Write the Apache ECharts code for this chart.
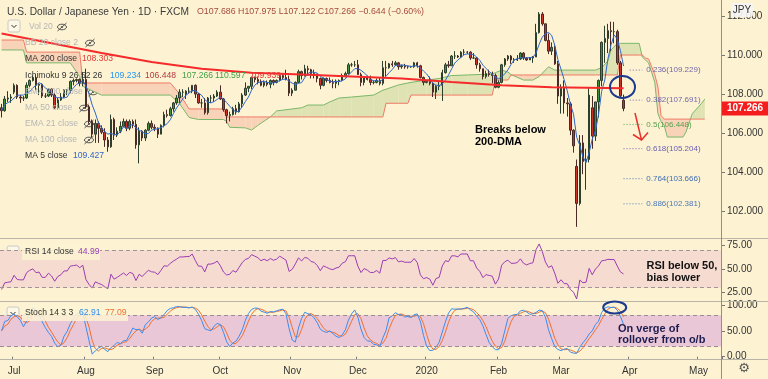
<!DOCTYPE html>
<html><head><meta charset="utf-8">
<script src="https://cdn.jsdelivr.net/npm/echarts@6.0.0/dist/echarts.min.js"></script>
<style>
html,body{margin:0;padding:0;background:#fdf3d3;}
#chart{width:768px;height:379px;}
</style></head><body>
<div id="chart"></div>
<script>
// ---------------- DATA ----------------
const firstDate = '2019-06-25', lastDate = '2020-05-12';
const monthNames = ['Jan','Feb','Mar','Apr','May','Jun','Jul','Aug','Sep','Oct','Nov','Dec'];
// daily candles [open, high, low, close], Jun 25 2019 .. Mar 30 2020
const candles = [
[107.30,107.50,106.80,107.15],[107.15,107.90,107.10,107.75],[107.75,108.15,107.60,107.80],[107.80,108.00,107.55,107.85],
[108.10,108.55,108.00,108.45],[108.45,108.50,107.75,107.85],[107.85,107.95,107.55,107.80],[107.80,107.90,107.65,107.80],[107.80,108.60,107.75,108.45],
[108.45,108.75,108.35,108.70],[108.70,108.95,108.65,108.85],[108.85,109.00,108.20,108.45],[108.45,108.55,107.95,108.50],[108.50,108.55,107.80,107.90],
[107.90,108.05,107.80,107.90],[107.90,108.30,107.85,108.25],[108.25,108.30,107.85,107.95],[107.95,108.05,107.25,107.30],[107.30,107.80,107.20,107.70],
[107.70,108.05,107.65,107.85],[107.85,108.25,107.80,108.20],[108.20,108.25,107.95,108.20],[108.20,108.70,108.05,108.65],[108.65,108.80,108.45,108.70],
[108.70,108.80,108.60,108.75],[108.75,108.80,108.40,108.55],[108.55,109.10,108.40,108.75],
[108.75,109.30,107.25,107.35],[107.35,107.45,106.50,106.60],
[106.60,106.70,105.80,105.95],[105.95,106.70,105.50,106.50],[106.50,106.60,105.50,106.25],[106.25,106.40,105.95,106.05],[106.05,106.25,105.30,105.65],
[105.65,105.80,105.05,105.30],[105.30,106.95,105.25,106.70],[106.70,106.80,105.65,105.90],[105.90,106.30,105.80,106.10],[106.10,106.60,106.00,106.35],
[106.35,106.75,106.30,106.60],[106.60,106.70,106.10,106.25],[106.25,106.70,106.15,106.60],[106.60,106.70,106.25,106.45],[106.45,106.70,105.20,105.40],
[105.40,106.30,104.45,106.10],[106.10,106.15,105.60,105.75],[105.75,106.20,105.60,106.15],[106.15,106.60,106.10,106.50],[106.50,106.65,106.20,106.30],
[106.30,106.45,106.10,106.25],[106.25,106.30,105.75,105.95],[105.95,106.45,105.95,106.40],[106.40,107.10,106.30,106.95],[106.95,107.20,106.80,106.90],
[106.90,107.35,106.85,107.25],[107.25,107.60,107.10,107.55],[107.55,107.95,107.45,107.80],[107.80,108.25,107.55,108.10],[108.10,108.25,107.85,108.10],
[108.00,108.20,107.75,108.15],[108.15,108.35,108.05,108.15],[108.15,108.45,108.05,108.45],[108.45,108.50,107.80,108.00],[108.00,108.05,107.50,107.55],
[107.55,107.75,107.30,107.55],[107.55,107.80,106.95,107.05],[107.05,107.85,106.95,107.80],[107.80,107.95,107.55,107.80],[107.80,108.00,107.60,107.90],
[107.90,108.20,107.85,108.10],
[108.10,108.45,107.70,107.75],[107.75,107.80,107.10,107.20],[107.20,107.25,106.50,106.90],[106.90,107.10,106.60,106.95],
[106.95,107.35,106.90,107.25],[107.25,107.45,106.95,107.10],[107.10,107.60,107.05,107.50],[107.50,108.05,107.30,107.95],[107.95,108.60,107.90,108.30],
[108.30,108.40,108.10,108.40],[108.40,108.90,108.25,108.85],[108.85,108.90,108.60,108.75],[108.75,108.90,108.50,108.65],[108.65,108.75,108.40,108.45],
[108.45,108.70,108.35,108.60],[108.60,108.70,108.40,108.50],[108.50,108.75,108.30,108.70],[108.70,108.75,108.45,108.60],[108.60,108.75,108.55,108.70],
[108.70,109.00,108.65,108.95],[108.95,109.05,108.75,108.85],[108.85,109.25,108.70,108.75],[108.75,108.95,107.90,108.05],
[108.05,108.30,107.90,108.20],
[108.20,108.65,108.20,108.60],[108.60,109.25,108.55,109.15],[109.15,109.20,108.75,108.95],[108.95,109.50,108.90,109.30],[109.30,109.45,108.95,109.25],
[109.25,109.30,108.80,109.05],[109.05,109.25,108.80,109.00],[109.00,109.05,108.60,108.80],[108.80,108.85,108.25,108.45],[108.45,108.85,108.40,108.80],
[108.80,108.85,108.60,108.70],[108.70,108.85,108.55,108.60],[108.60,108.75,108.30,108.55],[108.55,108.75,108.30,108.65],[108.65,108.75,108.45,108.70],
[108.70,109.05,108.65,108.95],[108.95,109.15,108.85,109.05],[109.05,109.60,109.00,109.50],[109.50,109.60,109.40,109.50],[109.50,109.70,109.40,109.50],
[109.50,109.75,109.00,109.00],[109.00,109.10,108.40,108.60],[108.60,108.90,108.45,108.85],[108.85,108.95,108.70,108.75],[108.75,108.95,108.45,108.60],
[108.60,108.70,108.50,108.60],[108.60,108.80,108.55,108.70],[108.70,108.85,108.45,108.55],[108.55,109.70,108.45,109.35],[109.35,109.70,108.90,109.35],
[109.35,109.60,109.30,109.55],[109.55,109.70,109.40,109.50],[109.50,109.70,109.45,109.60],[109.60,109.65,109.25,109.40],[109.40,109.50,109.30,109.45],
[109.45,109.55,109.30,109.40],[109.40,109.45,109.30,109.40],[109.40,109.45,109.35,109.40],[109.40,109.65,109.35,109.60],[109.60,109.65,109.35,109.45],
[109.45,109.50,108.80,108.85],[108.85,108.90,108.45,108.60],
[108.60,108.70,108.55,108.65],[108.65,108.90,108.45,108.55],[108.55,108.60,107.85,108.10],
[108.10,108.45,107.75,108.40],[108.40,108.65,108.20,108.45],[108.45,109.25,107.65,109.10],[109.10,109.60,109.05,109.50],[109.50,109.70,109.35,109.45],
[109.45,110.00,109.45,109.95],[109.95,110.20,109.80,109.95],[109.95,110.00,109.85,109.90],[109.90,110.20,109.85,110.15],[110.15,110.30,110.00,110.15],
[110.15,110.20,110.05,110.15],[110.15,110.20,109.75,109.85],[109.85,110.10,109.80,109.85],[109.85,109.90,109.30,109.50],[109.50,109.60,109.15,109.30],
[109.30,109.30,108.75,108.90],[108.90,109.20,108.80,109.05],[109.05,109.25,108.90,109.00],[109.00,109.15,108.55,108.95],[108.95,109.05,108.30,108.35],
[108.35,108.70,108.30,108.60],[108.60,109.55,108.55,109.50],[109.50,109.85,109.40,109.80],[109.80,110.00,109.70,109.95],[109.95,110.00,109.55,109.75],
[109.75,109.85,109.60,109.75],[109.75,110.00,109.70,109.80],[109.80,110.15,109.75,110.10],[110.10,110.15,109.75,109.85],[109.85,109.90,109.70,109.75],
[109.75,109.90,109.75,109.85],[109.85,109.95,109.60,109.90],[109.90,111.60,109.90,111.15],[111.15,112.20,111.10,112.10],[112.10,112.20,111.50,111.60],
[111.60,111.60,110.70,110.75],[110.75,111.10,110.05,110.20],[110.20,110.65,110.00,110.40],[110.40,110.50,109.50,109.55],[109.55,109.70,107.50,107.90],
[107.90,108.50,107.00,108.30],[108.30,108.70,107.00,107.55],[107.55,107.80,106.85,107.50],[107.50,107.60,105.90,106.15],[106.15,106.20,105.00,105.35],
[104.30,104.65,101.20,102.40],[102.40,105.90,102.30,105.50],[105.50,105.90,103.90,104.55],[104.55,105.20,103.10,104.65],[104.65,108.30,104.50,107.95],
[107.30,107.90,105.20,105.85],[105.85,107.60,105.60,107.60],[107.60,108.75,106.80,108.70],[108.70,110.70,108.40,110.65],[110.65,111.50,109.60,110.85],
[110.85,111.60,110.10,111.25],[111.25,111.71,110.20,111.20],[111.20,111.70,110.60,111.20],[111.20,111.30,109.50,109.60],[109.60,109.70,107.85,107.91],
[107.686,107.975,107.122,107.266]
];
// MA 200 (bar index, value)
const ma200Idx = [0,16,32,48,64,80,96,112,128,144,160,176,199];
const ma200Val = [111.10,110.60,110.10,109.65,109.30,109.10,109.00,108.90,108.80,108.62,108.45,108.35,108.30];
// Ichimoku cloud edges (bar index, leading span A, leading span B)
const cloudIdx = [0,7,8,22,25,26,32,54,57,60,63,71,72,73,78,80,82,86,88,96,98,103,105,108,112,119,122,123,127,130,131,136,140,144,149,157,158,160,162,163,167,170,172,175,177,190,192,194,195,197,198,204,205,206,207,208,209,210,211,212,213,218,219,221,224,225];
const spanA = [110.26,110.26,109.60,109.60,108.90,108.40,107.95,107.95,107.50,106.80,106.70,106.70,106.60,106.30,106.27,106.16,106.40,106.83,107.14,107.30,107.44,107.44,107.60,107.80,107.85,107.95,108.20,108.25,108.47,108.57,108.60,108.72,108.80,108.95,108.98,109.03,109.10,109.23,109.13,109.00,108.72,108.72,108.90,109.40,109.23,109.23,109.35,109.70,110.26,110.60,110.60,110.60,109.90,109.75,109.60,109.10,108.60,107.00,106.60,106.40,105.80,105.80,106.06,107.00,107.53,107.75];
const spanB = [110.77,110.77,110.15,110.15,110.15,108.57,108.57,108.57,108.00,107.24,107.24,107.24,106.83,106.83,106.83,106.83,106.83,106.83,106.83,106.83,106.83,106.83,106.83,106.83,106.83,106.83,106.83,107.53,107.53,107.53,107.95,107.95,107.95,107.95,107.95,107.95,108.72,108.72,108.72,108.98,108.98,108.98,108.98,108.98,108.98,108.98,108.98,108.98,108.98,108.98,110.00,110.00,110.00,109.85,109.80,109.40,109.00,108.37,106.90,106.72,106.72,106.72,106.72,106.72,106.72,106.72];
// Fibonacci retracement
const fibRatios = ['0.236','0.382','0.5','0.618','0.764','0.886'];
const fibPrices = [109.229,107.691,106.448,105.204,103.666,102.381];
const fibStart = [201,201,199,199,199,199];
const fibColors = ['#7468a8','#7468a8','#58a04a','#6a5cb0','#3f6db5','#4d78b8'];
// indicator readings shown in the legends
const rsiStart = 28;   // RSI level at the first bar
const priceAxisTicks = [102,104,106,108,110,112];
const rsiTicks = [25,50,75];
const stochTicks = [0,50,100];

// ---------------- DERIVED ----------------
function weekdays(a, b) {
  const out = []; const d = new Date(a + 'T00:00:00Z'); const e = new Date(b + 'T00:00:00Z');
  while (d <= e) { const w = d.getUTCDay(); if (w !== 0 && w !== 6) out.push(d.toISOString().slice(0, 10)); d.setUTCDate(d.getUTCDate() + 1); }
  return out;
}
const dates = weekdays(firstDate, lastDate);
const monthStart = {};
dates.forEach((d, i) => { if (i > 0 && d.slice(5, 7) !== dates[i - 1].slice(5, 7)) {
  const m = +d.slice(5, 7); monthStart[d] = m === 1 ? d.slice(0, 4) : monthNames[m - 1]; } });

const closes = candles.map(c => c[3]);
const candleData = candles.map(c => [c[0], c[3], c[2], c[1]]);
const ma5 = closes.map((c, i) => { const s = closes.slice(Math.max(0, i - 4), i + 1); return +(s.reduce((a, b) => a + b, 0) / s.length).toFixed(3); });
// RSI 14 (Wilder)
let avgL = 0.3, avgG = avgL * rsiStart / (100 - rsiStart);
const rsi = closes.map((c, i) => {
  if (i > 0) { const ch = c - closes[i - 1]; avgG = (avgG * 13 + Math.max(ch, 0)) / 14; avgL = (avgL * 13 + Math.max(-ch, 0)) / 14; }
  return +(100 - 100 / (1 + avgG / avgL)).toFixed(2);
});
// Stoch 14 3 3
const raw = candles.map((c, i) => { const w = candles.slice(Math.max(0, i - 13), i + 1);
  const hh = Math.max(...w.map(x => x[1])), ll = Math.min(...w.map(x => x[2])); return (c[3] - ll) / (hh - ll) * 100; });
const sma3 = arr => arr.map((v, i) => { const s = arr.slice(Math.max(0, i - 2), i + 1); return s.reduce((a, b) => a + b, 0) / s.length; });
const stochK = sma3(raw).map(v => +v.toFixed(2));
const stochD = sma3(stochK).map(v => +v.toFixed(2));

// ---------------- CHART ----------------
const FONT = 'Liberation Sans, Arial, sans-serif';
const BG = '#fdf3d3';
const chart = echarts.init(document.getElementById('chart'), null, { renderer: 'canvas' });
const grids = [
  { left: 0, right: 46, top: 0, height: 238 },
  { left: 0, right: 46, top: 239, height: 62 },
  { left: 0, right: 46, top: 302, height: 57 }
];
const xAxes = grids.map((g, gi) => ({
  type: 'category', gridIndex: gi, data: dates, boundaryGap: true,
  axisLine: { show: false }, splitLine: { show: false },
  axisTick: gi === 2 ? { show: true, length: 3, lineStyle: { color: '#777' }, interval: (i, v) => !!monthStart[v] } : { show: false },
  axisLabel: gi === 2 ? { show: true, interval: (i, v) => !!monthStart[v], formatter: v => monthStart[v] || '', color: '#333', fontSize: 10, fontFamily: FONT, margin: 7 } : { show: false }
}));
function yAx(gi, min, max, ticks, dec) {
  return { type: 'value', gridIndex: gi, position: 'right', min, max, scale: true,
    splitLine: { show: false }, axisLine: { show: false },
    axisTick: { show: true, length: 3, inside: false, customValues: ticks, lineStyle: { color: '#777' } },
    axisLabel: { show: true, customValues: ticks, formatter: v => v.toFixed(dec), color: '#333', fontSize: 10, fontFamily: FONT, margin: 5 } };
}
const yAxes = [yAx(0, 100.63, 112.82, priceAxisTicks, 3), yAx(1, 15.7, 82.2, rsiTicks, 2), yAx(2, -4.4, 105.8, stochTicks, 2)];

const GREEN_FILL = '#dfe2b2', PINK_FILL = '#f9d3b8';
const cloudFill = {
  type: 'custom', xAxisIndex: 0, yAxisIndex: 0, z: 1, silent: true,
  data: cloudIdx.slice(0, -1).map((v, k) => [v, Math.min(spanA[k], spanB[k]), Math.max(spanA[k], spanB[k])]),
  encode: { x: 0, y: [1, 2] },
  renderItem: (params, api) => {
    const k = params.dataIndex, i0 = cloudIdx[k], i1 = cloudIdx[k + 1];
    const a0 = spanA[k], b0 = spanB[k], a1 = spanA[k + 1], b1 = spanB[k + 1];
    const pa0 = api.coord([i0, a0]), pb0 = api.coord([i0, b0]), pa1 = api.coord([i1, a1]), pb1 = api.coord([i1, b1]);
    const d0 = a0 - b0, d1 = a1 - b1;
    const col = d => d >= 0 ? GREEN_FILL : PINK_FILL;
    if (d0 * d1 >= 0) {
      return { type: 'polygon', shape: { points: [pa0, pa1, pb1, pb0] }, style: { fill: col(d0 + d1) } };
    }
    const t = d0 / (d0 - d1);
    const X = [pa0[0] + t * (pa1[0] - pa0[0]), pa0[1] + t * (pa1[1] - pa0[1])];
    return { type: 'group', children: [
      { type: 'polygon', shape: { points: [pa0, X, pb0] }, style: { fill: col(d0) } },
      { type: 'polygon', shape: { points: [X, pa1, pb1] }, style: { fill: col(d1) } }
    ] };
  }
};
const lineS = (data, color, width, z, xi = 0, yi = 0) => ({ type: 'line', xAxisIndex: xi, yAxisIndex: yi, data, symbol: 'none', silent: true, z,
  lineStyle: { color, width }, animation: false });

const series = [
  cloudFill,
  lineS(cloudIdx.map((v, k) => [v, spanA[k]]), '#79b76a', 1, 2),
  lineS(cloudIdx.map((v, k) => [v, spanB[k]]), '#f07a66', 1, 2),
  { type: 'candlestick', xAxisIndex: 0, yAxisIndex: 0, data: candleData, barWidth: '62%', z: 3, silent: true,
    itemStyle: { color: '#3f8f3f', color0: '#c8322b', borderColor: '#2c3f2c', borderColor0: '#4a2a26', borderWidth: 1 } },
  lineS(ma5.map((v, i) => [i, v]), '#2f66c9', 1, 4),
  lineS(ma200Idx.map((v, k) => [v, ma200Val[k]]), '#f52a2a', 2, 5),
  ...fibPrices.map((p, k) => ({ type: 'line', xAxisIndex: 0, yAxisIndex: 0, symbol: 'none', silent: true, z: 6,
    data: [[fibStart[k], p], [205, p]], lineStyle: { color: fibColors[k], width: 1, type: [1, 2] },
    endLabel: { show: true, formatter: () => fibRatios[k] + '(' + p.toFixed(3) + ')', color: fibColors[k], fontSize: 8, fontFamily: FONT, distance: 4 } })),
  { ...lineS(rsi.map((v, i) => [i, v]), '#9b3db3', 1, 3, 1, 1),
    markArea: { silent: true, itemStyle: { color: '#f6dbd1' }, data: [[{ yAxis: 30 }, { yAxis: 70 }]] },
    markLine: { silent: true, symbol: 'none', label: { show: false }, lineStyle: { type: [4, 3], color: '#a09494', width: 1 }, data: [{ yAxis: 70 }, { yAxis: 30 }] } },
  { ...lineS(stochK.map((v, i) => [i, v]), '#3b8df0', 1, 4, 2, 2),
    markArea: { silent: true, itemStyle: { color: '#eac7d6' }, data: [[{ yAxis: 20 }, { yAxis: 80 }]] },
    markLine: { silent: true, symbol: 'none', label: { show: false }, lineStyle: { type: [4, 3], color: '#9a8a95', width: 1 }, data: [{ yAxis: 80 }, { yAxis: 20 }] } },
  lineS(stochD.map((v, i) => [i, v]), '#f0702e', 1, 3, 2, 2)
];

chart.setOption({ animation: false, backgroundColor: BG, grid: grids, xAxis: xAxes, yAxis: yAxes, series });

// ---------------- TEXT / ANNOTATIONS ----------------
const LEG = 8.6;
const T = (x, y, text, fill, size = LEG, weight = 'normal', align = 'left') => ({ type: 'text', z: 50, style: { x, y, text, fill, font: `${weight} ${size}px ${FONT}`, textAlign: align, textVerticalAlign: 'middle' } });
const eye = (cx, cy) => ({ type: 'group', z: 50, children: [
  { type: 'ellipse', shape: { cx, cy, rx: 4.5, ry: 2.8 }, style: { stroke: '#555', fill: 'none', lineWidth: 1 } },
  { type: 'circle', shape: { cx, cy, r: 1.1 }, style: { fill: '#555' } },
  { type: 'line', shape: { x1: cx - 4.5, y1: cy + 4, x2: cx + 4.5, y2: cy - 4 }, style: { stroke: '#555', lineWidth: 1 } }] });
const dropBox = (x, y) => ({ type: 'group', z: 50, children: [
  { type: 'rect', shape: { x, y, width: 12, height: 12, r: 2 }, style: { fill: '#fdf7e6', stroke: '#c9c9c9', lineWidth: 1 } },
  { type: 'polyline', shape: { points: [[x + 3.5, y + 5], [x + 6, y + 7.5], [x + 8.5, y + 5]] }, style: { stroke: '#333', lineWidth: 1, fill: 'none' } }] });
const L = (x1, y1, x2, y2, stroke, w = 1) => ({ type: 'line', z: 40, shape: { x1, y1, x2, y2 }, style: { stroke, lineWidth: w } });
const ell = (cx, cy, rx, ry) => ({ type: 'ellipse', z: 45, shape: { cx, cy, rx, ry }, style: { stroke: '#1d3b8e', fill: 'none', lineWidth: 2 } });
const arrow = (x1, y1, x2, y2, h1, h2) => ({ type: 'group', z: 45, children: [
  { type: 'line', shape: { x1, y1, x2, y2 }, style: { stroke: '#e8302a', lineWidth: 1.5 } },
  { type: 'polyline', shape: { points: [h1, [x2, y2], h2] }, style: { stroke: '#e8302a', lineWidth: 1.5, fill: 'none' } }] });

const gray = '#b5b5b5', dark = '#333';
const lastY = chart.convertToPixel({ yAxisIndex: 0 }, closes[closes.length - 1]);
const graphic = [
  // bottom-right corner cover (cuts the lowest stoch label like the original)
  { type: 'rect', z: 39, shape: { x: 722, y: 360, width: 46, height: 19 }, style: { fill: BG } },
  // separators and axis line
  L(0, 238.5, 768, 238.5, '#b9b4a8'), L(0, 301.5, 768, 301.5, '#b9b4a8'), L(0, 359.5, 768, 359.5, '#b9b4a8'),
  L(721.5, 0, 721.5, 379, '#8f8f8f'),
  // title row
  T(7, 12, 'U.S. Dollar / Japanese Yen · 1D · FXCM', '#3a3a3a', 10.2),
  T(197, 12, 'O107.686 H107.975 L107.122 C107.266 −0.644 (−0.60%)', '#a64a3c', 8.8),
  dropBox(8, 20),
  T(29, 27, 'Vol 20', gray), eye(62, 27),
  T(25, 43, 'BB 20 close 2', gray), eye(90, 43),
  T(25, 59, 'MA 200 close', dark), T(82, 59, '108.303', '#e53935'),
  T(25, 75.5, 'Ichimoku 9 26 52 26', dark), T(110, 75.5, '109.234', '#2196f3'), T(145, 75.5, '106.448', '#b23a3a'),
  T(182, 75.5, '107.266', '#43a047'), T(215, 75.5, '110.597', '#43a047'), T(250, 75.5, '109.939', '#e53935'),
  T(25, 92, 'EMA 200 close', gray), eye(93, 92),
  T(25, 108, 'MA 50 close', gray), eye(84, 108),
  T(25, 124, 'EMA 21 close', gray), eye(89, 124),
  T(25, 140, 'MA 100 close', gray), eye(89, 140),
  T(25, 156, 'MA 5 close', dark), T(73, 156, '109.427', '#2f66c9'),
  // RSI / Stoch legends
  { type: 'rect', z: 48, shape: { x: 22, y: 243, width: 78, height: 17 }, style: { fill: 'rgba(253,243,211,0.85)' } },
  dropBox(7, 246), T(25, 252, 'RSI 14 close', dark), T(78, 252, '44.99', '#9b3db3'),
  { type: 'rect', z: 48, shape: { x: 22, y: 305, width: 106, height: 16 }, style: { fill: 'rgba(253,243,211,0.85)' } },
  dropBox(7, 307), T(25, 313, 'Stoch 14 3 3', dark), T(79, 313, '62.91', '#2f8cf0'), T(105, 313, '77.09', '#f0702e'),
  // JPY tag
  { type: 'rect', z: 48, shape: { x: 731, y: 3, width: 22, height: 14, r: 3 }, style: { fill: 'rgba(245,245,245,0.9)' } },
  T(742, 10.5, 'JPY', '#333', 10, 'normal', 'center'),
  // last price tag
  { type: 'rect', z: 49, shape: { x: 722, y: lastY - 7, width: 46, height: 14 }, style: { fill: '#f41c1c' } },
  T(745, lastY, closes[closes.length - 1].toFixed(3), '#ffffff', 10, 'bold', 'center'),
  // gear icon
  { type: 'text', z: 50, style: { x: 744, y: 369, text: '⚙', fill: '#555', font: `13px DejaVu Sans`, textAlign: 'center', textVerticalAlign: 'middle' } },
  // annotations
  ell(622.5, 87, 12.5, 11),
  arrow(635, 113, 641.5, 140, [633, 134.5], [648, 132.5]),
  T(475, 130, 'Breaks below', '#000', 11, 'bold'), T(475, 141.5, '200-DMA', '#000', 11, 'bold'),
  arrow(632, 257.5, 638.5, 284.5, [630, 279], [646, 276.5]),
  T(646.5, 266, 'RSI below 50,', '#111', 11, 'bold'), T(646.5, 278, 'bias lower', '#111', 11, 'bold'),
  ell(614.7, 307.5, 11.5, 6),
  T(618, 328.5, 'On verge of', '#1c1c50', 11, 'bold'), T(618, 340, 'rollover from o/b', '#1c1c50', 11, 'bold')
];
chart.setOption({ graphic });
</script>
</body></html>
